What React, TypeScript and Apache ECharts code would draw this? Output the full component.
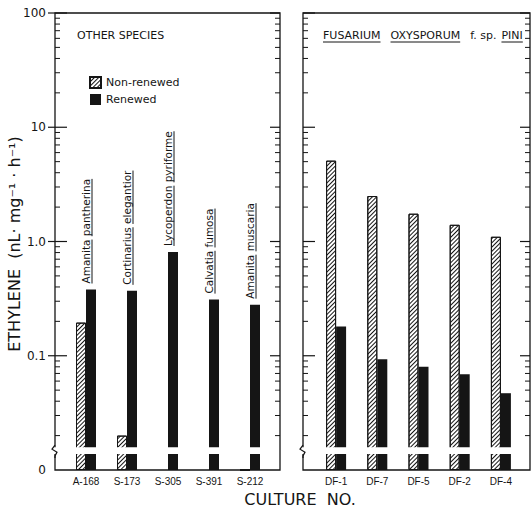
import React, { useEffect, useRef } from 'react';
import * as echarts from 'echarts';

// ---------- data ----------
const categoriesLeft = ['A-168', 'S-173', 'S-305', 'S-391', 'S-212'];
const speciesLeft = [
  'Amanita pantherina',
  'Cortinarius elegantior',
  'Lycoperdon pyriforme',
  'Calvatia fumosa',
  'Amanita muscaria',
];
const nonRenewedLeft: (number | null)[] = [0.195, 0.02, null, null, 0];
const renewedLeft: number[] = [0.38, 0.37, 0.81, 0.31, 0.28];

const categoriesRight = ['DF-1', 'DF-7', 'DF-5', 'DF-2', 'DF-4'];
const nonRenewedRight: number[] = [5.1, 2.5, 1.75, 1.4, 1.1];
const renewedRight: number[] = [0.18, 0.093, 0.08, 0.069, 0.047];

const majorTickValues = [0.01, 0.1, 1, 10, 100];
const majorTickLabels = ['0', '0.1', '1.0', '10', '100'];
const minorMultipliers = [2, 3, 4, 5, 6, 7, 8, 9];

// ---------- helpers / style ----------
const INK = '#151515';
const FONT = "'DejaVu Sans', sans-serif";
const FLOOR = 0.01;
const AXIS_MAX = Math.log10(100 / FLOOR);
const toAxis = (v: number | null) => (v == null ? null : v <= 0 ? 0 : Math.log10(v / FLOOR));
const BREAK_TOP = 0.2;
const BREAK_BOTTOM = 0.14;

let measureCtx: CanvasRenderingContext2D | null = null;
function measure(text: string, font: string) {
  if (!measureCtx) measureCtx = document.createElement('canvas').getContext('2d');
  measureCtx!.font = font;
  return measureCtx!.measureText(text).width;
}

function decorRenderer(offL: number, offR: number, outward: boolean) {
  return (params: any, api: any) => {
    const cs = params.coordSys;
    const fl = cs.x - offL;
    const fr = cs.x + cs.width + offR;
    const top = cs.y;
    const bottom = cs.y + cs.height;
    const children: any[] = [];
    children.push({
      type: 'rect',
      shape: { x: fl, y: top, width: fr - fl, height: bottom - top },
      style: { fill: 'none', stroke: INK, lineWidth: 1.3 },
    });
    const yb1 = api.coord([0, BREAK_TOP])[1];
    const yb2 = api.coord([0, BREAK_BOTTOM])[1];
    children.push({
      type: 'rect',
      shape: { x: fl - 5, y: yb1, width: fr - fl + 4, height: yb2 - yb1 },
      style: { fill: '#fff' },
    });
    children.push({
      type: 'polyline',
      shape: { points: [[fl, yb1 - 2], [fl - 3, yb1 + 2], [fl + 2, yb1 + 5], [fl, yb2 + 2], [fl, yb2 + 4]] },
      style: { fill: 'none', stroke: INK, lineWidth: 1.2 },
    });
    majorTickValues.forEach((v) => {
      if (v <= FLOOR) return;
      const y = api.coord([0, toAxis(v)])[1];
      children.push({
        type: 'line',
        shape: { x1: fl - (outward ? 7 : 0), y1: y, x2: fl + 12, y2: y },
        style: { stroke: INK, lineWidth: 1.2 },
      });
      children.push({
        type: 'line',
        shape: { x1: fr - 10, y1: y, x2: fr, y2: y },
        style: { stroke: INK, lineWidth: 1.2 },
      });
    });
    majorTickValues.forEach((v) => {
      if (v >= 100) return;
      minorMultipliers.forEach((m) => {
        const y = api.coord([0, toAxis(v * m)])[1];
        children.push({
          type: 'line',
          shape: { x1: fl, y1: y, x2: fl + 5, y2: y },
          style: { stroke: INK, lineWidth: 1 },
        });
        children.push({
          type: 'line',
          shape: { x1: fr - 5, y1: y, x2: fr, y2: y },
          style: { stroke: INK, lineWidth: 1 },
        });
      });
    });
    return { type: 'group', children };
  };
}

const SPECIES_FONT = `10.5px ${FONT}`;
function speciesRenderer(params: any, api: any) {
  const p = api.coord([api.value(0), api.value(1)]);
  const x = p[0];
  const yb = p[1] - 6;
  const text = speciesLeft[params.dataIndex];
  const children: any[] = [
    {
      type: 'text',
      x,
      y: yb,
      rotation: Math.PI / 2,
      style: { text, font: SPECIES_FONT, fill: INK, align: 'left', verticalAlign: 'middle' },
    },
  ];
  const words = text.split(' ');
  let offset = 0;
  words.forEach((w) => {
    const idx = text.indexOf(w, offset);
    const start = measure(text.slice(0, idx), SPECIES_FONT);
    const wl = measure(w, SPECIES_FONT);
    children.push({
      type: 'line',
      shape: { x1: x + 6, y1: yb - start, x2: x + 6, y2: yb - start - wl },
      style: { stroke: INK, lineWidth: 1 },
    });
    offset = idx + w.length;
  });
  return { type: 'group', children };
}

const hatchDecal = {
  symbol: 'rect',
  symbolSize: 1,
  color: INK,
  dashArrayX: [1, 0],
  dashArrayY: [1, 1.6],
  rotation: -Math.PI / 4,
};

const nonRenewedStyle = { color: '#fff', borderColor: INK, borderWidth: 1, decal: hatchDecal };
const renewedStyle = { color: INK };

function titlePieces() {
  const font = `11px ${FONT}`;
  const pieces: [string, boolean][] = [
    ['FUSARIUM', true],
    ['OXYSPORUM', true],
    ['f. sp.', false],
    ['PINI', true],
  ];
  const els: any[] = [];
  let x = 323;
  const y = 35;
  pieces.forEach(([t, u]) => {
    const w = measure(t, font);
    els.push({ type: 'text', x, y, style: { text: t, font, fill: INK, align: 'left', verticalAlign: 'middle' } });
    if (u) els.push({ type: 'line', shape: { x1: x, y1: y + 7, x2: x + w, y2: y + 7 }, style: { stroke: INK, lineWidth: 1 } });
    x += w + (t === 'f. sp.' ? 5 : 10);
  });
  return els;
}

export default function App() {
  const ref = useRef<HTMLDivElement>(null);
  useEffect(() => {
    if (!ref.current) return;
    const chart = echarts.init(ref.current, null, { renderer: 'svg' });
    const axisLabelFmt = (v: number) => {
      const i = majorTickValues.findIndex((t) => Math.abs((toAxis(t) as number) - v) < 1e-6);
      return i >= 0 ? majorTickLabels[i] : '';
    };
    const grids = [
      { left: 65.5, width: 205, top: 13, height: 457 },
      { left: 315.5, width: 206, top: 13, height: 457 },
    ];
    const xAxisBase = {
      type: 'category',
      axisLine: { show: false },
      axisTick: { show: false },
      axisLabel: { margin: 6, fontSize: 10, fontFamily: "'Liberation Sans', sans-serif", color: INK },
    };
    const yAxisBase = {
      type: 'value',
      min: 0,
      max: AXIS_MAX,
      interval: 1,
      axisLine: { show: false },
      axisTick: { show: false },
      splitLine: { show: false },
    };
    chart.setOption({
      animation: false,
      backgroundColor: '#fff',
      grid: grids,
      legend: {
        data: ['Non-renewed', 'Renewed'],
        left: 84,
        top: 71,
        orient: 'vertical',
        itemWidth: 11,
        itemHeight: 11,
        itemGap: 5,
        icon: 'rect',
        textStyle: { fontSize: 11, fontFamily: FONT, color: INK },
      },
      xAxis: [
        { ...xAxisBase, gridIndex: 0, data: categoriesLeft },
        { ...xAxisBase, gridIndex: 1, data: categoriesRight },
      ],
      yAxis: [
        {
          ...yAxisBase,
          gridIndex: 0,
          offset: 10.5,
          axisLabel: { margin: 9, fontSize: 12, fontFamily: FONT, color: INK, formatter: axisLabelFmt },
        },
        { ...yAxisBase, gridIndex: 1, axisLabel: { show: false } },
      ],
      series: [
        {
          name: 'Non-renewed',
          type: 'bar',
          xAxisIndex: 0,
          yAxisIndex: 0,
          barWidth: 10,
          barGap: '0%',
          itemStyle: nonRenewedStyle,
          data: nonRenewedLeft.map(toAxis),
        },
        {
          name: 'Renewed',
          type: 'bar',
          xAxisIndex: 0,
          yAxisIndex: 0,
          barWidth: 10,
          barGap: '0%',
          itemStyle: renewedStyle,
          data: renewedLeft.map(toAxis),
        },
        {
          name: 'Non-renewed',
          type: 'bar',
          xAxisIndex: 1,
          yAxisIndex: 1,
          barWidth: 10,
          barGap: '0%',
          itemStyle: nonRenewedStyle,
          data: nonRenewedRight.map(toAxis),
        },
        {
          name: 'Renewed',
          type: 'bar',
          xAxisIndex: 1,
          yAxisIndex: 1,
          barWidth: 10,
          barGap: '0%',
          itemStyle: renewedStyle,
          data: renewedRight.map(toAxis),
        },
        {
          name: 'decorL',
          type: 'custom',
          xAxisIndex: 0,
          yAxisIndex: 0,
          silent: true,
          clip: false,
          z: 5,
          renderItem: decorRenderer(10.5, 9.5, true),
          data: [[0, 0]],
        },
        {
          name: 'decorR',
          type: 'custom',
          xAxisIndex: 1,
          yAxisIndex: 1,
          silent: true,
          clip: false,
          z: 5,
          renderItem: decorRenderer(12.5, 8.5, false),
          data: [[0, 0]],
        },
        {
          name: 'species',
          type: 'custom',
          xAxisIndex: 0,
          yAxisIndex: 0,
          silent: true,
          clip: false,
          z: 6,
          renderItem: speciesRenderer,
          data: categoriesLeft.map((_, i) => [i, toAxis(Math.max(renewedLeft[i], nonRenewedLeft[i] ?? 0))]),
        },
      ],
      graphic: [
        {
          type: 'text',
          x: 14,
          y: 244,
          rotation: Math.PI / 2,
          style: {
            text: 'ETHYLENE  (nL· mg⁻¹ · h⁻¹)',
            font: `16px ${FONT}`,
            fill: INK,
            align: 'center',
            verticalAlign: 'middle',
          },
        },
        {
          type: 'text',
          x: 300,
          y: 499,
          style: { text: 'CULTURE  NO.', font: `16px ${FONT}`, fill: INK, align: 'center', verticalAlign: 'middle' },
        },
        {
          type: 'text',
          x: 77,
          y: 35,
          style: { text: 'OTHER SPECIES', font: `11px ${FONT}`, fill: INK, align: 'left', verticalAlign: 'middle' },
        },
        ...titlePieces(),
      ],
    });
    return () => chart.dispose();
  }, []);
  return (
    <div
      ref={ref}
      style={{ position: 'fixed', left: 0, top: 0, width: 531, height: 511, background: '#fff' }}
    />
  );
}
